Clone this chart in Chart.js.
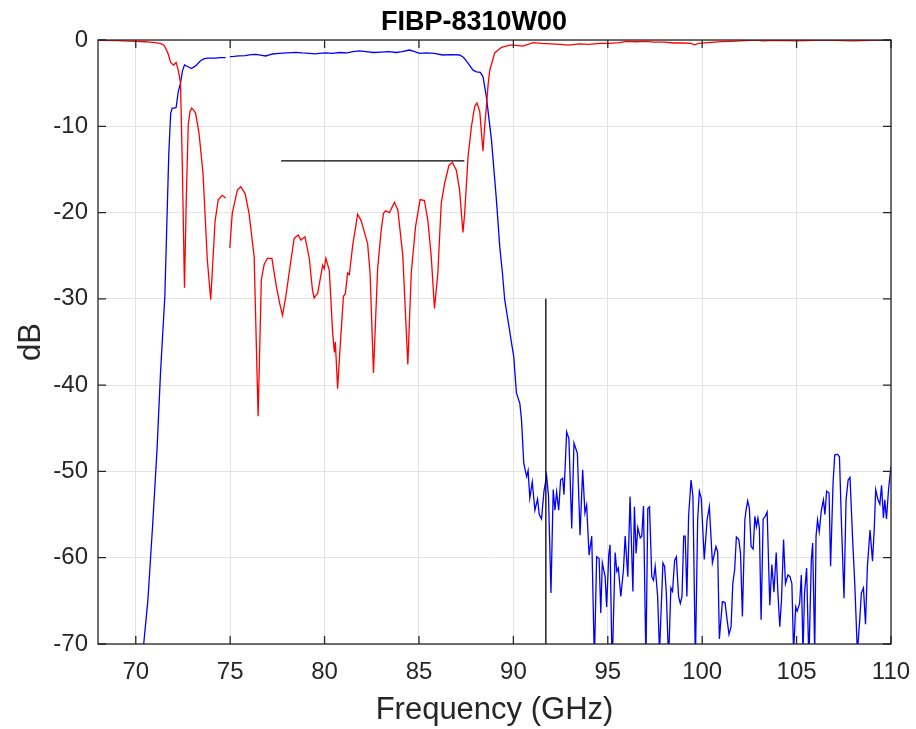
<!DOCTYPE html>
<html>
<head>
<meta charset="utf-8">
<script src="https://cdn.jsdelivr.net/npm/chart.js@4.4.0/dist/chart.umd.min.js"></script>
<style>
  html, body { margin: 0; padding: 0; background: #fff; }
</style>
</head>
<body>
<canvas id="chart" width="916" height="729"></canvas>
<script>
// tick labels
const xTicks = [70, 75, 80, 85, 90, 95, 100, 105, 110];
const yTicks = [0, -10, -20, -30, -40, -50, -60, -70];
const chartTitle = 'FIBP-8310W00';

// S11 (red) - null marks the break between the two sweeps
const s11Freq = [68, 69, 70, 70.5, 71, 71.3, 71.5, 71.7, 71.85, 72, 72.14, 72.25, 72.37, 72.47, 72.58, 72.68, 72.78, 72.87, 72.96, 73.06,
  73.17, 73.35, 73.56, 73.79, 73.97, 74.2, 74.37, 74.58, 74.76, 74.87, 74.98, 75.11, 75.38, 75.56, 75.79, 76, 76.27, 76.48, 76.65, 76.8,
  76.97, 77.21, 77.45, 77.62, 77.77, 77.95, 78.22, 78.39, 78.6, 78.75, 78.83, 78.96, 79.19, 79.36, 79.45, 79.54, 79.63, 79.9, 79.98, 80.07,
  80.25, 80.43, 80.52, 80.57, 80.69, 80.87, 81, 81.1, 81.22, 81.31, 81.49, 81.75, 81.93, 82.1, 82.28, 82.41, 82.59, 82.81, 83, 83.12,
  83.22, 83.44, 83.7, 83.88, 84.14, 84.41, 84.59, 84.82, 85.06, 85.29, 85.47, 85.65, 85.82, 86, 86.18, 86.36, 86.59, 86.77, 86.98, 87.15,
  87.33, 87.42, 87.6, 87.78, 87.95, 88.07, 88.22, 88.3, 88.39, 88.48, 88.57, 88.66, 88.75, 89.01, 89.37, 89.81, 90, 90.5, 91.05, 91.5,
  92, 92.5, 92.9, 93.5, 94, 94.6, 95.1, 95.6, 96, 96.5, 97, 97.5, 98, 98.5, 99, 99.4, 99.6, 99.8, 100.3, 101,
  101.5, 102, 102.9, 103.2, 104, 105, 106, 107, 108, 109, 110];
const s11Db = [-0.05, -0.08, -0.15, -0.2, -0.3, -0.4, -0.6, -1.5, -2.6, -2.9, -2.6, -3.5, -5, -15, -28.7, -18, -9.8, -8.3, -7.9, -8.1,
  -8.5, -10.8, -15.4, -25.5, -30.1, -21, -18.5, -18, -18.3, null, -24.1, -20.1, -17.4, -17, -17.8, -20.1, -25.1, -43.6, -27.8, -26,
  -25.3, -25.3, -28.6, -30.5, -31.9, -29.7, -25.5, -23, -22.6, -23.2, -23, -22.8, -25.3, -29, -29.9, -29.6, -29.4, -26.1, -26.5, -25.3,
  -26.7, -34, -36.2, -35, -40.4, -34, -29.7, -29.4, -27, -27.2, -23.8, -20.2, -20.9, -22.2, -23.6, -27, -38.6, -26.5, -22, -20.1,
  -19.8, -20, -18.8, -19.7, -24.9, -37.6, -27, -21.6, -18.5, -18.6, -20.9, -25.1, -31.1, -27, -18.9, -16.6, -14.5, -14.2, -15.1, -17.4,
  -22.3, -20.1, -13.5, -10, -7.7, -7.3, -8.3, -10.5, -12.9, -10, -7.7, -5.2, -3.5, -1.5, -0.85, -0.6, -0.6, -0.7, -0.3, -0.4,
  -0.45, -0.5, -0.6, -0.45, -0.5, -0.4, -0.4, -0.3, -0.15, -0.2, -0.15, -0.25, -0.25, -0.35, -0.35, -0.4, -0.55, -0.4, -0.3, -0.2,
  -0.15, -0.1, 0, -0.1, -0.05, -0.1, -0.05, -0.05, -0.1, -0.05, -0.05];

// S21 (blue)
const s21Freq = [70.3, 70.42, 70.64, 70.9, 71.13, 71.31, 71.54, 71.65, 71.75, 71.85, 71.93, 72.05, 72.14, 72.25, 72.37, 72.47, 72.58, 72.77, 72.95, 73.17,
  73.43, 73.6, 73.79, 74.2, 74.5, 74.76, 74.87, 74.98, 75.2, 75.47, 75.8, 76.1, 76.36, 76.6, 76.89, 77.24, 77.6, 78, 78.48, 78.8,
  79.2, 79.5, 79.72, 80.07, 80.4, 80.8, 81.2, 81.5, 81.84, 82.2, 82.6, 83, 83.4, 83.8, 84.1, 84.5, 84.7, 85.03, 85.4, 85.8,
  86.27, 86.7, 87.15, 87.35, 87.5, 87.7, 87.86, 88.05, 88.25, 88.39, 88.57, 88.7, 88.84, 89.1, 89.28, 89.42, 89.54, 89.67, 89.81, 89.9,
  90.02, 90.16, 90.34, 90.43, 90.55, 90.7, 90.78, 90.87, 91, 91.14, 91.28, 91.37, 91.49, 91.62, 91.76, 91.86, 91.99, 92.11, 92.2, 92.29,
  92.4, 92.5, 92.61, 92.68, 92.82, 92.94, 93.09, 93.21, 93.39, 93.53, 93.67, 93.79, 93.88, 94.01, 94.15, 94.29, 94.41, 94.54, 94.63, 94.71,
  94.86, 94.94, 95.05, 95.12, 95.23, 95.39, 95.48, 95.56, 95.69, 95.83, 95.92, 96.06, 96.18, 96.33, 96.41, 96.5, 96.59, 96.72, 96.8, 96.89,
  97.02, 97.12, 97.21, 97.33, 97.42, 97.51, 97.64, 97.74, 97.92, 98.01, 98.1, 98.22, 98.34, 98.43, 98.54, 98.63, 98.75, 98.84, 98.93, 99.02,
  99.1, 99.19, 99.28, 99.41, 99.51, 99.64, 99.76, 99.85, 99.95, 100.11, 100.26, 100.38, 100.54, 100.73, 100.82, 100.91, 101.07, 101.21, 101.32, 101.42,
  101.53, 101.62, 101.72, 101.81, 101.94, 102.03, 102.13, 102.26, 102.33, 102.41, 102.5, 102.59, 102.7, 102.79, 102.87, 102.95, 103.03, 103.12, 103.23, 103.34,
  103.44, 103.58, 103.69, 103.8, 103.92, 104.01, 104.11, 104.2, 104.31, 104.41, 104.54, 104.65, 104.75, 104.84, 104.95, 105.03, 105.16, 105.25, 105.34, 105.42,
  105.53, 105.65, 105.78, 105.85, 105.96, 106.03, 106.11, 106.2, 106.31, 106.42, 106.5, 106.59, 106.72, 106.8, 106.93, 107.02, 107.16, 107.27, 107.37, 107.51,
  107.62, 107.73, 107.83, 107.96, 108.08, 108.22, 108.35, 108.43, 108.54, 108.65, 108.75, 108.89, 109.02, 109.11, 109.19, 109.3, 109.41, 109.5, 109.6, 109.67,
  109.76, 109.87, 110];
const s21Db = [-74, -70, -65, -56, -47.3, -38.6, -29.7, -21, -13.1, -8.5, -7.9, -7.9, -7.8, -6, -5, -3.6, -2.9, -3.1, -3.3, -3,
  -2.4, -2.2, -2.1, -2.1, -2.05, -2.05, null, -1.93, -1.9, -1.85, -1.8, -1.7, -1.66, -1.75, -1.85, -1.62, -1.55, -1.5, -1.43, -1.5,
  -1.55, -1.6, -1.55, -1.5, -1.55, -1.45, -1.5, -1.35, -1.27, -1.35, -1.45, -1.4, -1.35, -1.45, -1.35, -1.16, -1.3, -1.55, -1.5, -1.55,
  -1.74, -1.7, -1.74, -2, -2.4, -3, -3.5, -3.7, -3.75, -4.25, -6.6, -9, -11.6, -18.5, -24, -27, -30.1, -31.9, -33.8, -35.1,
  -36.7, -40.9, -42.1, -44, -49.05, -50.6, -49.9, -53.1, -51.2, -54.5, -53.2, -55, -55.5, -52.3, -50.5, -52.9, -64.1, -52.1, -54.5, -52.4,
  -54.5, -51, -50.8, -52.7, -45.4, -46.2, -56.6, -46.7, -47.9, -57.4, -49.8, -54.8, -53.9, -59.7, -57.5, -72, -59.9, -60.1, -66.4, -60.6,
  -62.2, -65.7, -59.7, -58.5, -73, -59.4, -61.6, -61.2, -64.5, -61.4, -57.5, -62.2, -52.9, -63.9, -54.1, -59.5, -56.5, -57.7, -57.5, -54,
  -72, -54.3, -54.1, -62.2, -62.6, -61, -64.5, -71, -60.6, -61, -64.1, -72, -63.5, -63.9, -60.3, -59.9, -64.5, -65.3, -64.5, -57.5,
  -57.5, -64.5, -55.2, -51, -52.9, -72, -55.6, -52.3, -53.1, -60.2, -55.6, -54.1, -60.6, -58.7, -59.3, -69.4, -65.1, -65.2, -67.2, -68.9,
  -68, -63, -61.4, -57.6, -57.9, -59.5, -66.8, -55.6, -54.4, -53.4, -54.3, -58.7, -59, -55.2, -56.4, -55.4, -56.6, -67.2, -55.5, -55.2,
  -54.7, -65.5, -60.8, -64, -59.4, -64.1, -68, -64.9, -57.9, -63, -62, -62.2, -63, -71, -65.7, -66.2, -65.3, -62, -71, -64.1,
  -61.2, -72, -60.3, -58.3, -71, -57.5, -55.6, -57, -54.5, -53.3, -55, -52.3, -52.5, -61, -51.4, -48.1, -48, -48.3, -55.6, -64.7,
  -53.3, -51, -50.7, -57.5, -63, -71, -67, -64.1, -63.5, -67.7, -61, -56.8, -60.4, -56.8, -52.1, -53.2, -53.8, -51.6, -55.4, -53.3,
  -55.5, -52.1, -49.4];

// spec limit lines
const passbandLimitFreq = [77.7, 87.4];
const passbandLimitDb = [-14, -14];
const stopbandLimitFreq = [91.72, 91.72];
const stopbandLimitDb = [-30, -70];

function toPoints(xs, ys) {
  return xs.map((x, i) => ({ x: x, y: ys[i] }));
}

const axisColor = '#262626';
const gridColor = '#e3e3e3';

// MATLAB style box with inward ticks, plus the title
const boxPlugin = {
  id: 'box',
  afterDraw(chart) {
    const { ctx, chartArea: a, scales } = chart;
    const len = 8;
    ctx.save();
    ctx.strokeStyle = axisColor;
    ctx.lineWidth = 1.3;
    ctx.beginPath();
    xTicks.forEach(v => {
      const px = scales.x.getPixelForValue(v);
      ctx.moveTo(px, a.bottom); ctx.lineTo(px, a.bottom - len);
      ctx.moveTo(px, a.top); ctx.lineTo(px, a.top + len);
    });
    yTicks.forEach(v => {
      const py = scales.y.getPixelForValue(v);
      ctx.moveTo(a.left, py); ctx.lineTo(a.left + len, py);
      ctx.moveTo(a.right, py); ctx.lineTo(a.right - len, py);
    });
    ctx.stroke();
    ctx.strokeRect(a.left, a.top, a.right - a.left, a.bottom - a.top);

    ctx.fillStyle = '#000';
    ctx.font = 'bold 27px "Liberation Sans", Arial, sans-serif';
    ctx.textAlign = 'center';
    ctx.textBaseline = 'alphabetic';
    ctx.fillText(chartTitle, 474, 30);
    ctx.restore();
  }
};

new Chart(document.getElementById('chart'), {
  type: 'scatter',
  data: {
    datasets: [
      { data: toPoints(s11Freq, s11Db), borderColor: '#ff0000', borderWidth: 1.3, showLine: true, pointRadius: 0, spanGaps: false, order: 1 },
      { data: toPoints(s21Freq, s21Db), borderColor: '#0000ff', borderWidth: 1.3, showLine: true, pointRadius: 0, spanGaps: false, order: 2 },
      { data: toPoints(passbandLimitFreq, passbandLimitDb), borderColor: '#000000', borderWidth: 1.3, showLine: true, pointRadius: 0, order: 0 },
      { data: toPoints(stopbandLimitFreq, stopbandLimitDb), borderColor: '#000000', borderWidth: 1.3, showLine: true, pointRadius: 0, order: 0 }
    ]
  },
  options: {
    responsive: false,
    animation: false,
    layout: { padding: { left: 0, right: 25, top: 40, bottom: 0 } },
    plugins: {
      legend: { display: false },
      tooltip: { enabled: false },
      title: { display: false }
    },
    scales: {
      x: {
        type: 'linear',
        min: 68, max: 110,
        afterBuildTicks: s => { s.ticks = xTicks.map(v => ({ value: v })); },
        afterFit: s => { s.height = 85; s.paddingLeft = 0; s.paddingRight = 0; },
        grid: { color: gridColor, lineWidth: 1, drawTicks: false },
        border: { display: false },
        ticks: { color: axisColor, padding: 14, maxRotation: 0, font: { family: 'Liberation Sans', size: 24 } },
        title: { display: true, text: 'Frequency (GHz)', color: axisColor, padding: { top: 0, bottom: 0 }, font: { family: 'Liberation Sans', size: 31 } }
      },
      y: {
        type: 'linear',
        min: -70, max: 0,
        afterBuildTicks: s => { s.ticks = yTicks.map(v => ({ value: v })); },
        afterFit: s => { s.width = 98; s.paddingTop = 0; s.paddingBottom = 0; },
        grid: { color: gridColor, lineWidth: 1, drawTicks: false },
        border: { display: false },
        ticks: { color: axisColor, padding: 10, font: { family: 'Liberation Sans', size: 24 } },
        title: { display: true, text: 'dB', color: axisColor, padding: { top: 13, bottom: 0 }, font: { family: 'Liberation Sans', size: 31 } }
      }
    }
  },
  plugins: [boxPlugin]
});
</script>
</body>
</html>
